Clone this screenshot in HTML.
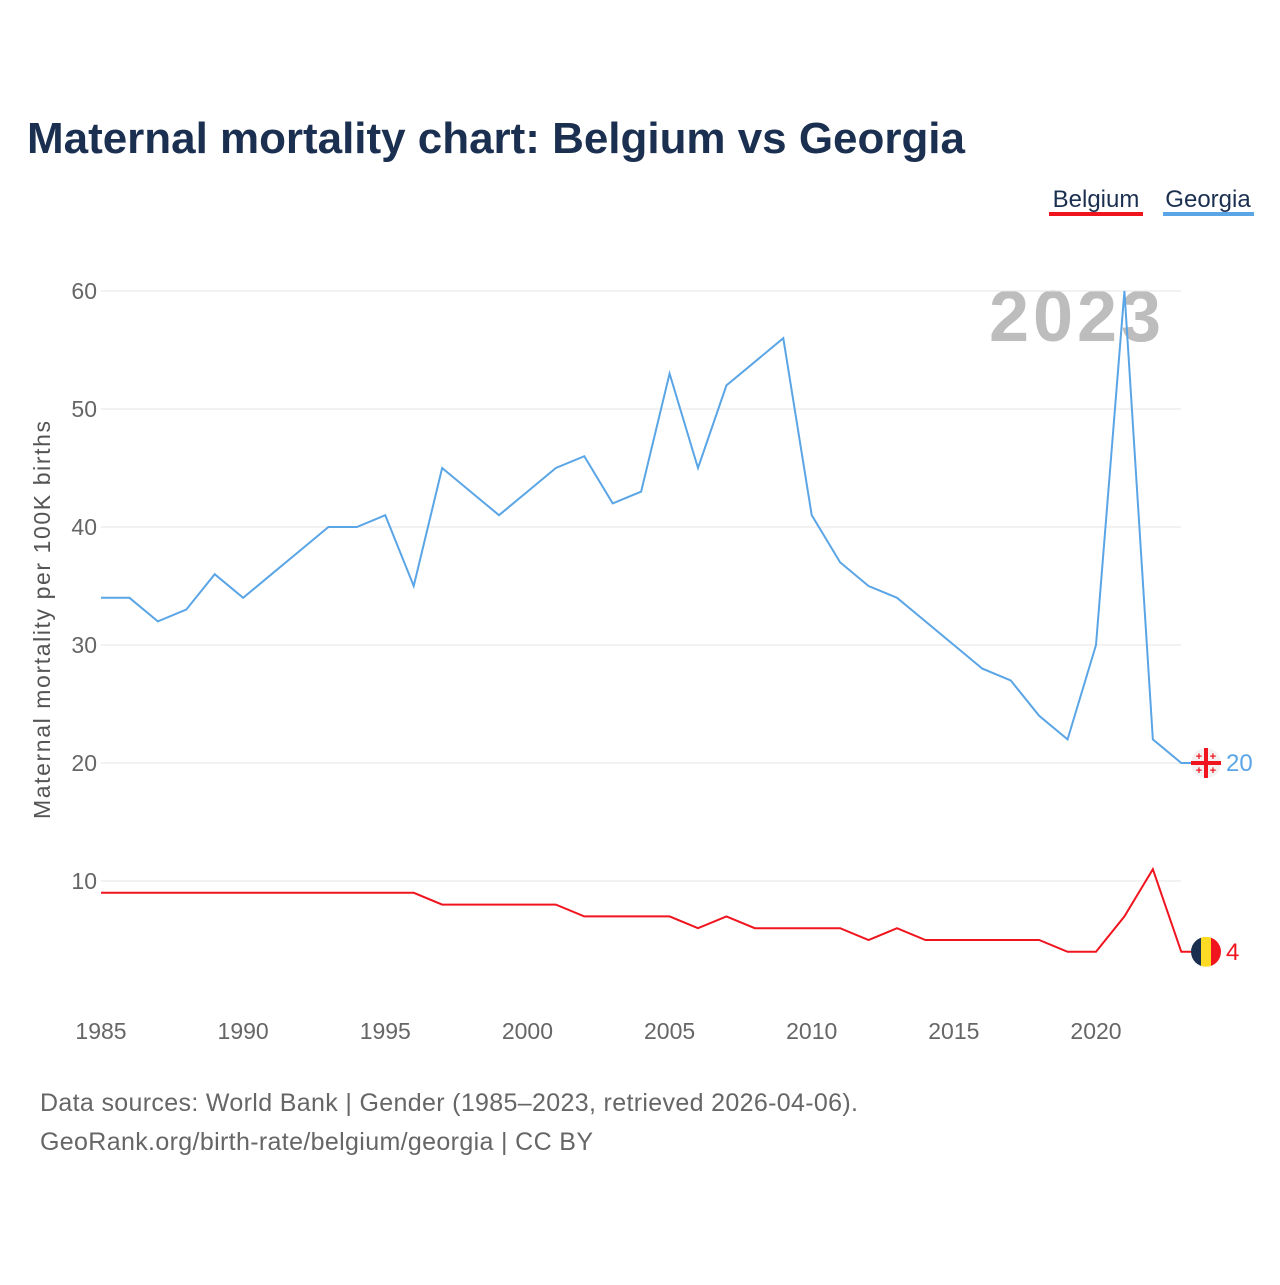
<!DOCTYPE html>
<html><head><meta charset="utf-8"><style>
body{margin:0;background:#fff;font-family:"Liberation Sans",sans-serif}
</style></head><body>
<svg width="1280" height="1280" xmlns="http://www.w3.org/2000/svg">
<text x="27" y="153" font-size="44" font-weight="bold" fill="#1b3050" textLength="938">Maternal mortality chart: Belgium vs Georgia</text>
<g><text x="1096" y="207" font-size="24" fill="#1b3050" text-anchor="middle">Belgium</text><rect x="1049" y="212" width="94" height="4" fill="#f0141e"/></g>
<g><text x="1208" y="207" font-size="24" fill="#1b3050" text-anchor="middle">Georgia</text><rect x="1163" y="212" width="91" height="4" fill="#5aa5e6"/></g>
<text x="989" y="341" font-size="72" font-weight="bold" fill="#bdbdbd" textLength="172">2023</text>
<g id="grid"></g><g id="xt"></g>
<text transform="translate(50,620) rotate(-90)" font-size="23" fill="#555" text-anchor="middle" textLength="398">Maternal mortality per 100K births</text>
<g id="series"></g>
<text x="40" y="1111" font-size="25" fill="#666" textLength="818">Data sources: World Bank | Gender (1985–2023, retrieved 2026-04-06).</text>
<text x="40" y="1150" font-size="25" fill="#666" textLength="553">GeoRank.org/birth-rate/belgium/georgia | CC BY</text>
</svg>
<script>
const years=[];for(let y=1985;y<=2023;y++)years.push(y);
const georgia=[34,34,32,33,36,34,36,38,40,40,41,35,45,43,41,43,45,46,42,43,53,45,52,54,56,41,37,35,34,32,30,28,27,24,22,30,60,22,20];
const belgium=[9,9,9,9,9,9,9,9,9,9,9,9,8,8,8,8,8,7,7,7,7,6,7,6,6,6,6,5,6,5,5,5,5,5,4,4,7,11,4];
const yTicks=[10,20,30,40,50,60];
const xTicks=[1985,1990,1995,2000,2005,2010,2015,2020];
const NS="http://www.w3.org/2000/svg";
const X=y=>101+(y-1985)*(995/35);
const Y=v=>999-v*11.8;
function mk(t,a,p){const e=document.createElementNS(NS,t);for(const k in a)e.setAttribute(k,a[k]);p.appendChild(e);return e;}
const grid=document.getElementById('grid');
yTicks.forEach(v=>{
 const l=mk('line',{x1:101,x2:1181,y1:Y(v),y2:Y(v),stroke:'#e6e6e6','stroke-width':1},grid);
 
 
 const t=mk('text',{x:97,y:Y(v)+8,'font-size':23,fill:'#666','text-anchor':'end'},grid);t.textContent=v;
 
 
});
const xt=document.getElementById('xt');
xTicks.forEach(v=>{const t=mk('text',{x:X(v),y:1039,'font-size':23,fill:'#666','text-anchor':'middle'},xt);t.textContent=v;
 
 });
const s=document.getElementById('series');
function line(data,col,name){
 const p=mk('polyline',{points:data.map((v,i)=>X(years[i])+','+Y(v)).join(' ')+' '+(X(2023)+10)+','+Y(data[data.length-1]),fill:'none',stroke:col,'stroke-width':2},s);
 
 
 const v=data[data.length-1];
 const t=mk('text',{x:1226,y:Y(v)+8,'font-size':24,fill:col},s);t.textContent=v;
 
 
 return Y(v);
}
const gy=line(georgia,'#5aa5e6','georgia');
const by=line(belgium,'#f0141e','belgium');
const gf=mk('g',{},s);


mk('circle',{cx:1206,cy:gy,r:15,fill:'#f2f2f2'},gf);
mk('rect',{x:1191,y:gy-2,width:30,height:4,fill:'#f0141e'},gf);
mk('rect',{x:1204,y:gy-15,width:4,height:30,fill:'#f0141e'},gf);
[[-7,-7],[7,-7],[-7,7],[7,7]].forEach(([dx,dy])=>mk('text',{x:1206+dx,y:gy+dy+4,'font-size':11,'font-weight':'bold',fill:'#f0141e','text-anchor':'middle'},gf).textContent='+');
const bf=mk('g',{},s);


mk('clipPath',{id:'bc'},bf);mk('circle',{cx:1206,cy:by,r:15},document.getElementById('bc'));
mk('rect',{x:1191,y:by-15,width:10,height:30,fill:'#1b3050','clip-path':'url(#bc)'},bf);
mk('rect',{x:1201,y:by-15,width:10,height:30,fill:'#fdda24','clip-path':'url(#bc)'},bf);
mk('rect',{x:1211,y:by-15,width:10,height:30,fill:'#f0141e','clip-path':'url(#bc)'},bf);
</script>
</body></html>
